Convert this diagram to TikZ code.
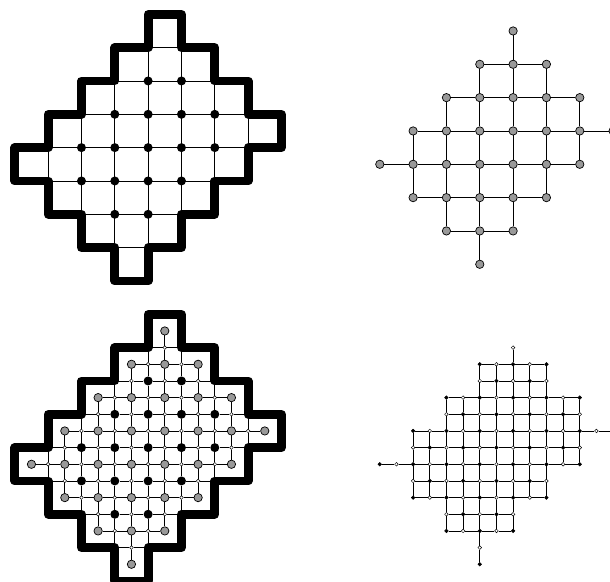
\documentclass[tikz,border=0pt]{standalone}
\usepackage{tikz}
\definecolor{SiteGray}{HTML}{999999}
\tikzset{
  wall/.style={line width=7.5pt,line join=round},
  cellside/.style={line width=0.6pt},
  dualedge/.style={line width=0.6pt},
  vdot/.style={circle,fill=black,inner sep=0pt,minimum size=0.27cm},
  cdot/.style={circle,draw=black,fill=SiteGray,line width=0.6pt,inner sep=0pt,minimum size=0.25cm},
  mdot/.style={circle,draw=black,fill=white,line width=0.4pt,inner sep=0pt,minimum size=0.11cm},
  spot/.style={circle,draw=black,line width=0.4pt,inner sep=0pt,minimum size=0.11cm}
}
\newcommand{\regionwall}[1]{%
  \draw[wall,yshift=#1cm] (4,0) -- (5,0) -- (5,-1) -- (6,-1) -- (6,-2) -- (7,-2) -- (7,-3) -- (8,-3) -- (8,-4) -- (7,-4) -- (7,-5) -- (6,-5) -- (6,-6) -- (5,-6) -- (5,-7) -- (4,-7) -- (4,-8) -- (3,-8) -- (3,-7) -- (2,-7) -- (2,-6) -- (1,-6) -- (1,-5) -- (0,-5) -- (0,-4) -- (1,-4) -- (1,-3) -- (2,-3) -- (2,-2) -- (3,-2) -- (3,-1) -- (4,-1) -- cycle;}

\begin{document}
\begin{tikzpicture}[x=1cm,y=1cm]
  \useasboundingbox (-0.444,0.429) rectangle (17.857,-17.03);

  \foreach \rw/\lo/\hi in {1/4/5,2/3/6,3/2/7,4/1/7,5/1/6,6/2/5,7/3/4} {
    \draw[cellside] (\lo,-\rw) -- (\hi,-\rw);
    \draw[cellside] (\rw,-\lo) -- (\rw,-\hi);
  }
  \foreach \Y/\lo/\hi in {2/4/5,3/3/6,4/2/6,5/2/5,6/3/4}
    \foreach \X in {\lo,...,\hi}
      \node[vdot] (tv-\X-\Y) at (\X,-\Y) {};
  \regionwall{0}

  \foreach \rw/\lo/\hi in {0/4/4,1/3/5,2/2/6,3/1/7,4/0/6,5/1/5,6/2/4,7/3/3}
    \foreach \cl in {\lo,...,\hi}
      \node[cdot] (d-\rw-\cl) at (\cl+10.95,-\rw-0.5) {};
  \foreach \rw/\lo/\hi in {1/3/4,2/2/5,3/1/6,4/0/5,5/1/4,6/2/3}
    \foreach \cl in {\lo,...,\hi} {
      \pgfmathtruncatemacro\cc{\cl+1}
      \draw[dualedge] (d-\rw-\cl) -- (d-\rw-\cc);
    }
  \foreach \rw/\lo/\hi in {0/4/4,1/3/5,2/2/6,3/1/6,4/1/5,5/2/4,6/3/3}
    \foreach \cl in {\lo,...,\hi} {
      \pgfmathtruncatemacro\rr{\rw+1}
      \draw[dualedge] (d-\rw-\cl) -- (d-\rr-\cl);
    }

  \foreach \X in {0,...,8}
    \foreach \Y in {0,...,8}
      \coordinate (bv-\X-\Y) at (\X,-\Y-9);
  \foreach \Y/\lo/\hi in {2/4/5,3/3/6,4/2/6,5/2/5,6/3/4}
    \foreach \X in {\lo,...,\hi}
      \node[vdot] (bv-\X-\Y) at (\X,-\Y-9) {};
  \foreach \rw/\lo/\hi in {0/4/4,1/3/5,2/2/6,3/1/7,4/0/6,5/1/5,6/2/4,7/3/3}
    \foreach \cl in {\lo,...,\hi}
      \node[cdot] (g-\rw-\cl) at (\cl+0.5,-\rw-9.5) {};
  \foreach \rw/\lo/\hi in {1/3/4,2/2/5,3/1/6,4/0/5,5/1/4,6/2/3}
    \foreach \cl in {\lo,...,\hi} {
      \pgfmathtruncatemacro\cc{\cl+1}
      \pgfmathtruncatemacro\rr{\rw+1}
      \node[mdot] (wv-\cc-\rw) at (\cc,-\rw-9.5) {};
      \draw[dualedge] (g-\rw-\cl) -- (wv-\cc-\rw) -- (g-\rw-\cc);
      \draw[cellside] (bv-\cc-\rw) -- (wv-\cc-\rw) -- (bv-\cc-\rr);
    }
  \foreach \rw/\lo/\hi in {0/4/4,1/3/5,2/2/6,3/1/6,4/1/5,5/2/4,6/3/3}
    \foreach \cl in {\lo,...,\hi} {
      \pgfmathtruncatemacro\cc{\cl+1}
      \pgfmathtruncatemacro\rr{\rw+1}
      \node[mdot] (wh-\cl-\rr) at (\cl+0.5,-\rr-9) {};
      \draw[dualedge] (g-\rw-\cl) -- (wh-\cl-\rr) -- (g-\rr-\cl);
      \draw[cellside] (bv-\cl-\rr) -- (wh-\cl-\rr) -- (bv-\cc-\rr);
    }
  \regionwall{-9}

  \foreach \rw/\lo/\hi in {1/8/8,2/6/10,3/6/10,4/4/12,5/4/12,6/2/14,7/2/12,8/0/12,9/2/10,10/2/10,11/4/8,12/4/8,13/6/6,14/6/6}
    \foreach \cl in {\lo,...,\hi} {
      \pgfmathtruncatemacro\odd{mod(\rw+\cl,2)}
      \ifnum\odd=0 \def\spotfill{black}\else\def\spotfill{white}\fi
      \node[spot,fill=\spotfill] (s-\rw-\cl) at (10.95+0.5*\cl,-9.5-0.5*\rw) {};
    }
  \foreach \rw/\lo/\hi in {2/6/9,3/6/9,4/4/11,5/4/11,6/2/13,7/2/11,8/0/11,9/2/9,10/2/9,11/4/7,12/4/7}
    \foreach \cl in {\lo,...,\hi} {
      \pgfmathtruncatemacro\cc{\cl+1}
      \draw[dualedge] (s-\rw-\cl) -- (s-\rw-\cc);
    }
  \foreach \rw/\lo/\hi in {1/8/8,2/6/10,3/6/10,4/4/12,5/4/12,6/2/12,7/2/12,8/2/10,9/2/10,10/4/8,11/4/8,12/6/6,13/6/6}
    \foreach \cl in {\lo,...,\hi} {
      \pgfmathtruncatemacro\rr{\rw+1}
      \draw[dualedge] (s-\rw-\cl) -- (s-\rr-\cl);
    }
\end{tikzpicture}
\end{document}
